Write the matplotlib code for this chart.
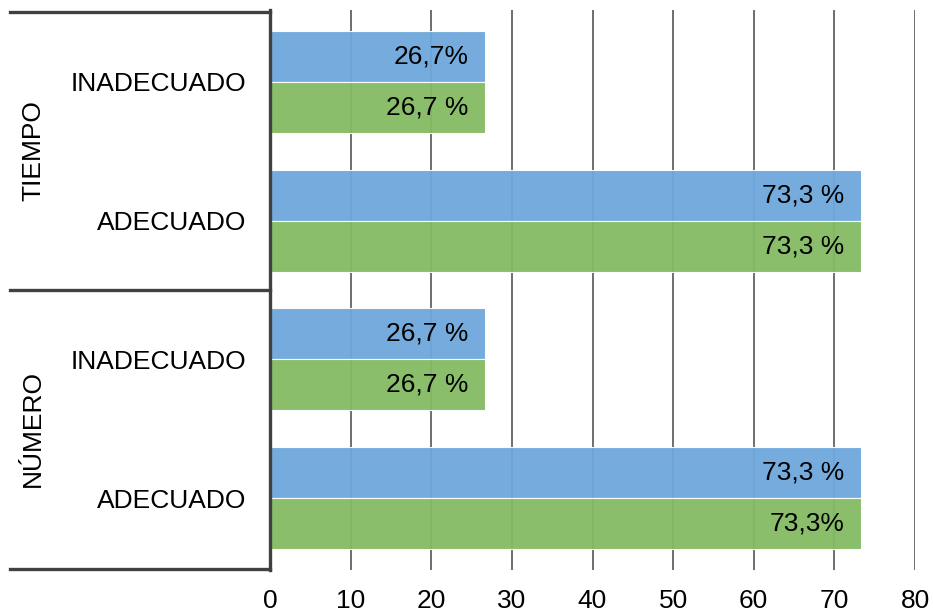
import matplotlib
matplotlib.use("Agg")
import matplotlib.pyplot as plt
import matplotlib.transforms as mtransforms

plt.rcParams['font.family'] = ['Liberation Sans', 'DejaVu Sans']

categories = ["INADECUADO", "ADECUADO", "INADECUADO", "ADECUADO"]
groups = ["TIEMPO", "NÚMERO"]
blue_values = [26.7, 73.3, 26.7, 73.3]
green_values = [26.7, 73.3, 26.7, 73.3]
blue_labels = ["26,7%", "73,3 %", "26,7 %", "73,3 %"]
green_labels = ["26,7 %", "73,3 %", "26,7 %", "73,3%"]
x_ticks = [0, 10, 20, 30, 40, 50, 60, 70, 80]

blue = "#6fa8dc"
green = "#84bb63"
dark = "#404040"
fs = 19

fig = plt.figure(figsize=(9.33, 6.14), dpi=100)
ax = fig.add_axes([270 / 933, 1 - 570 / 614, 645 / 933, 560 / 614])

pos = list(range(len(categories)))
h = 0.367
ax.barh([p - h / 2 for p in pos], blue_values, height=h, color=blue, alpha=0.95,
        edgecolor="white", linewidth=0.8, zorder=2)
ax.barh([p + h / 2 for p in pos], green_values, height=h, color=green, alpha=0.95,
        edgecolor="white", linewidth=0.8, zorder=2)

for p, v, lab in zip(pos, blue_values, blue_labels):
    ax.annotate(lab, (v, p - h / 2), xytext=(-12, 0), textcoords="offset points",
                ha="right", va="center", fontsize=fs, zorder=3)
for p, v, lab in zip(pos, green_values, green_labels):
    ax.annotate(lab, (v, p + h / 2), xytext=(-12, 0), textcoords="offset points",
                ha="right", va="center", fontsize=fs, zorder=3)

ax.set_xlim(0, 80)
ax.set_ylim(3.515, -0.515)
ax.set_xticks(x_ticks)
ax.set_xticklabels([str(t) for t in x_ticks], fontsize=fs)
ax.set_yticks(pos)
ax.set_yticklabels(categories, fontsize=fs)
ax.tick_params(axis="y", length=0, pad=17)
ax.tick_params(axis="x", length=0, pad=14)

ax.grid(axis="x", color="#555555", linewidth=1.2, zorder=1)
ax.set_axisbelow(True)
for s in ["top", "right", "bottom"]:
    ax.spines[s].set_visible(False)
ax.spines["left"].set_color(dark)
ax.spines["left"].set_linewidth(2.4)
ax.spines["left"].set_zorder(4)

# group separators and group labels
trans = mtransforms.blended_transform_factory(ax.transAxes, ax.transData)
x0 = (10 - 270) / 645
for yb in [-0.5, 1.5, 3.51]:
    ax.plot([x0, 0], [yb, yb], transform=trans, color=dark, linewidth=2.4,
            clip_on=False, solid_capstyle="projecting", zorder=4)
gx = (33 - 270) / 645
for gi, g in enumerate(groups):
    ax.text(gx, gi * 2 + 0.5, g, transform=trans, rotation=90, ha="center",
            va="center", fontsize=fs)

fig.savefig("out.png", dpi=100)
